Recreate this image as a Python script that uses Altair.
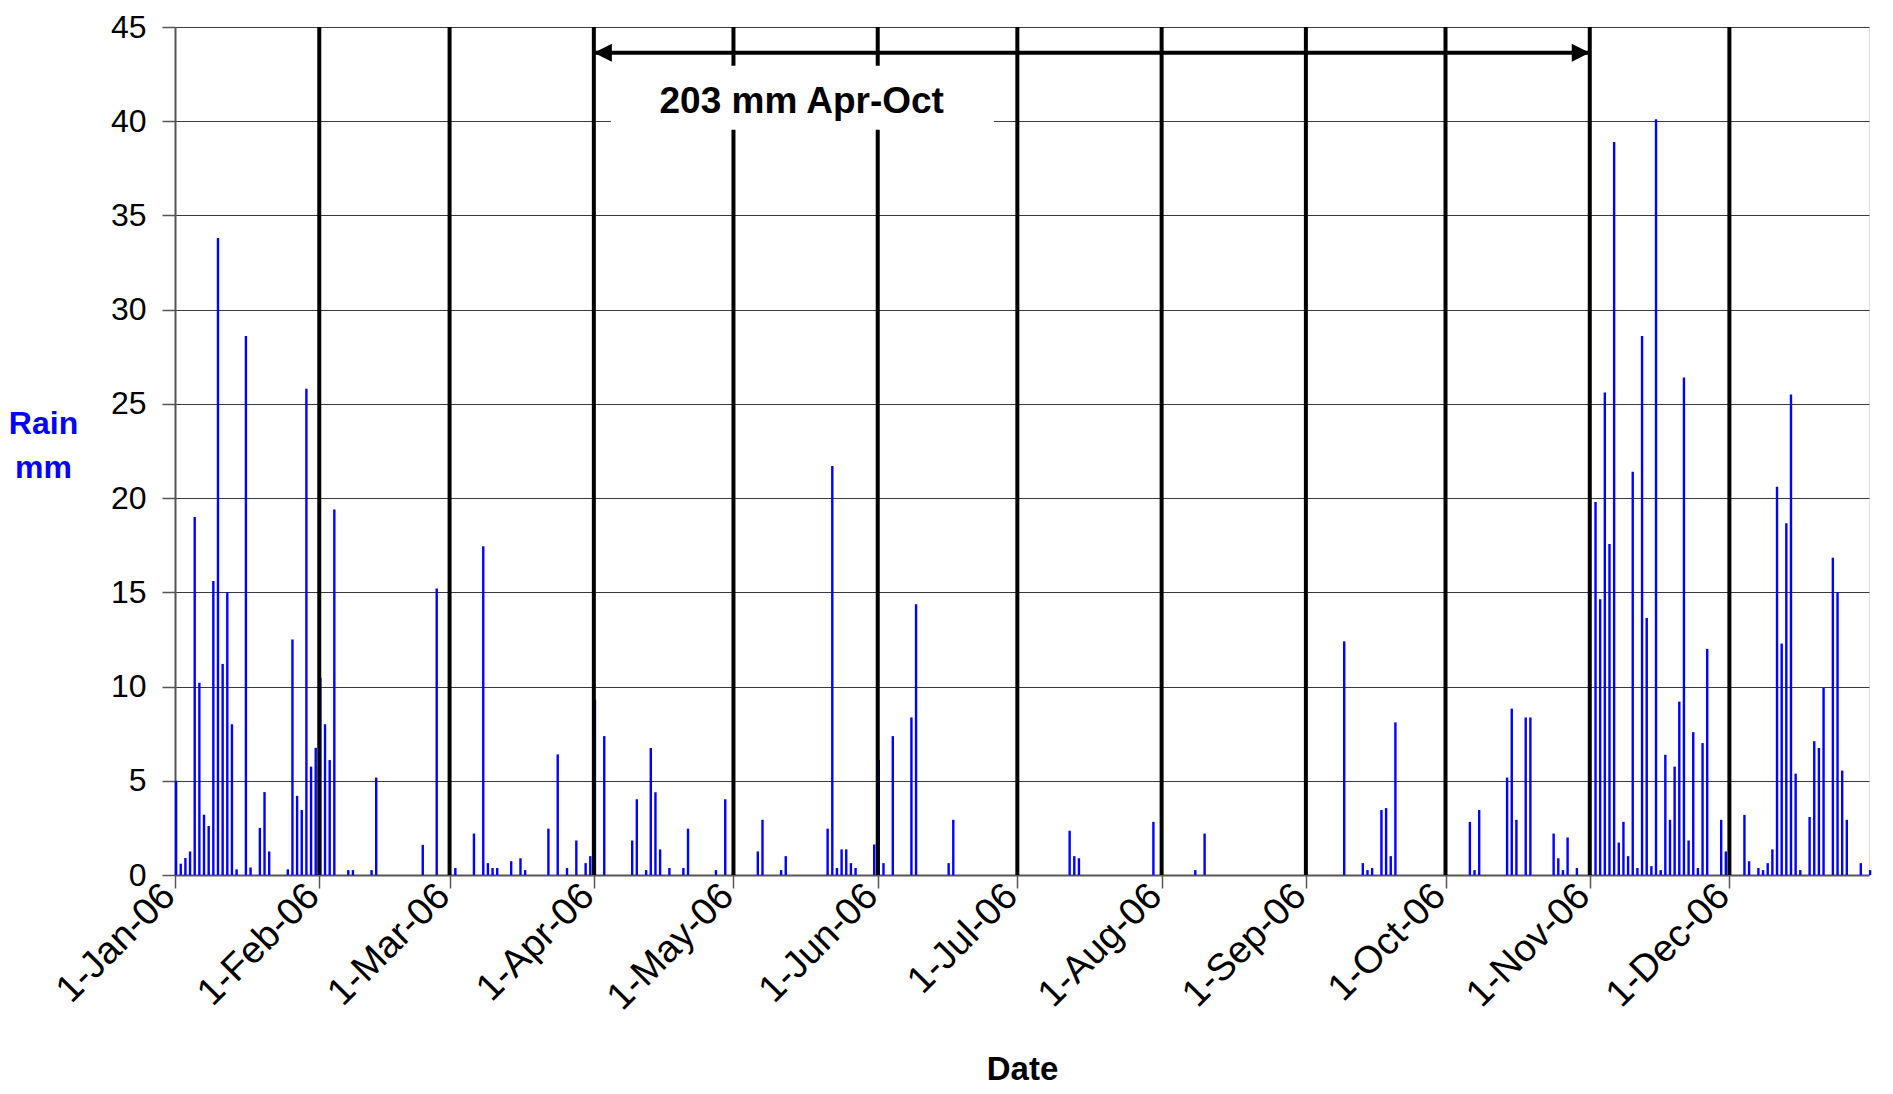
import altair as alt
import pandas as pd

# ---- data (daily rain, 2006) ----
days = [
    "01-01", "01-02", "01-03", "01-04", "01-05", "01-06", "01-07", "01-08", "01-09", "01-10",
    "01-11", "01-12", "01-13", "01-14", "01-16", "01-17", "01-19", "01-20", "01-21", "01-25",
    "01-26", "01-27", "01-28", "01-29", "01-30", "01-31",
    "02-01", "02-02", "02-03", "02-04", "02-07", "02-08", "02-12", "02-13", "02-23", "02-26",
    "03-02", "03-06", "03-08", "03-09", "03-10", "03-11", "03-14", "03-16", "03-17", "03-22",
    "03-24", "03-26", "03-28", "03-30", "03-31",
    "04-01", "04-03", "04-09", "04-10", "04-12", "04-13", "04-14", "04-15", "04-17", "04-20",
    "04-21", "04-27", "04-29",
    "05-06", "05-07", "05-11", "05-12", "05-21", "05-22", "05-23", "05-24", "05-25", "05-26",
    "05-27", "05-31",
    "06-01", "06-02", "06-04", "06-08", "06-09", "06-16", "06-17",
    "07-12", "07-13", "07-14", "07-30",
    "08-08", "08-10",
    "09-09", "09-13", "09-14", "09-15", "09-17", "09-18", "09-19", "09-20",
    "10-06", "10-07", "10-08", "10-14", "10-15", "10-16", "10-18", "10-19", "10-24", "10-25",
    "10-26", "10-27", "10-29",
    "11-02", "11-03", "11-04", "11-05", "11-06", "11-07", "11-08", "11-09", "11-10", "11-11",
    "11-12", "11-13", "11-14", "11-15", "11-16", "11-17", "11-18", "11-19", "11-20", "11-21",
    "11-22", "11-23", "11-24", "11-25", "11-26", "11-29", "11-30",
    "12-04", "12-05", "12-07", "12-08", "12-09", "12-10", "12-11", "12-12", "12-13", "12-14",
    "12-15", "12-16", "12-18", "12-19", "12-20", "12-21", "12-23", "12-24", "12-25", "12-26",
    "12-29", "12-31",
]
rain = [
    5.0, 0.6, 0.9, 1.25, 19.0, 10.2, 3.2, 2.6, 15.6, 33.8,
    11.2, 15.0, 8.0, 0.3, 28.6, 0.4, 2.5, 4.4, 1.25, 0.3,
    12.5, 4.2, 3.45, 25.8, 5.75, 6.75,
    10.45, 8.0, 6.1, 19.4, 0.26, 0.26, 0.26, 5.17, 1.6, 15.2,
    0.37, 2.2, 17.45, 0.63, 0.37, 0.37, 0.73, 0.89, 0.26, 2.46,
    6.4, 0.37, 1.83, 0.63, 1.0,
    9.3, 7.37, 1.83, 4.02, 0.26, 6.74, 4.39, 1.36, 0.37, 0.37,
    2.46, 0.26, 4.02,
    1.25, 2.93, 0.26, 1.0, 2.46, 21.7, 0.37, 1.36, 1.36, 0.63,
    0.37, 1.62,
    6.1, 0.63, 7.37, 8.36, 14.37, 0.63, 2.93,
    2.35, 1.0, 0.89, 2.82,
    0.26, 2.2,
    12.4, 0.63, 0.26, 0.37, 3.45, 3.55, 1.0, 8.1,
    2.82, 0.26, 3.45, 5.17, 8.83, 2.93, 8.36, 8.36, 2.2, 0.89,
    0.26, 1.99, 0.37,
    19.8, 14.63, 25.6, 17.56, 38.9, 1.72, 2.82, 1.0, 21.4, 0.37,
    28.6, 13.64, 0.47, 40.1, 0.26, 6.38, 2.93, 5.75, 9.2, 26.4,
    1.83, 7.58, 0.37, 7.0, 12.0, 2.93, 1.25,
    3.19, 0.73, 0.37, 0.26, 0.63, 1.36, 20.6, 12.28, 18.66, 25.5,
    5.38, 0.26, 3.08, 7.1, 6.74, 9.93, 16.83, 15.0, 5.54, 2.93,
    0.63, 0.26,
]
month_lines = ["02-01", "03-01", "04-01", "05-01", "06-01", "07-01",
               "08-01", "09-01", "10-01", "11-01", "12-01"]
y_ticks = [0, 5, 10, 15, 20, 25, 30, 35, 40, 45]

annotation_text = ["203 mm Apr-Oct"]
annotation_at = ["05-15T16:00:00"]
annotation_level = [40.45]
arrow_start = ["04-01"]
arrow_end = ["11-01"]
arrow_level = [43.64]
box_from = ["04-04T16:00:00"]
box_to = ["06-26T00:00:00"]
box_low = [39.55]
box_high = [42.95]


def ts(md):
    return f"2006-{md}" if "T" in md else f"2006-{md}T00:00:00"


df = pd.DataFrame({"date": [ts(d) for d in days], "rain": rain})
rules_df = pd.DataFrame({"date": [ts(m) for m in month_lines]})
box_df = pd.DataFrame({"date": [ts(d) for d in box_from], "date2": [ts(d) for d in box_to],
                       "rain": box_low, "rain2": box_high})
text_df = pd.DataFrame({"date": [ts(d) for d in annotation_at], "rain": annotation_level,
                        "label": annotation_text})
arrow_df = pd.DataFrame({"date": [ts(d) for d in arrow_start], "date2": [ts(d) for d in arrow_end],
                         "rain": arrow_level})
head_l_df = pd.DataFrame({"date": [ts(d) for d in arrow_start], "rain": arrow_level})
head_r_df = pd.DataFrame({"date": [ts(d) for d in arrow_end], "rain": arrow_level})

FONT = "Liberation Sans"

x_scale = alt.Scale(domain=[alt.DateTime(year=2006, month=1, date=1),
                            alt.DateTime(year=2006, month=12, date=31)],
                    nice=False, padding=0)
y_scale = alt.Scale(domain=[0, 45], nice=False, padding=0)

x_axis = alt.Axis(
    values=[alt.DateTime(year=2006, month=m, date=1) for m in range(1, 13)],
    format="%-d-%b-%y", labelAngle=-45, labelAlign="right", labelBaseline="middle",
    labelFontSize=38, labelFont=FONT, labelColor="black", labelPadding=2, labelOffset=-6,
    labelOverlap=False, labelFlush=False, labelBound=False,
    tickSize=13, tickColor="#555", tickWidth=1.5, domainColor="#555", domainWidth=2,
    grid=False, title="Date", titleFont=FONT, titleFontSize=33, titleFontWeight="bold",
    titleColor="black", titleY=204, titleBaseline="alphabetic",
)
y_axis = alt.Axis(
    values=y_ticks, labelFontSize=32, labelFont=FONT, labelColor="black", labelPadding=16,
    tickSize=13, tickColor="#555", tickWidth=1.5, domainColor="#555", domainWidth=2,
    grid=True, gridColor="#3a3a3a", gridWidth=1.2,
    title=["Rain", "mm"], titleFont=FONT, titleFontSize=32, titleFontWeight="bold",
    titleColor="#0000FF", titleAngle=0, titleX=-132, titleY=406, titleAlign="center",
    titleBaseline="alphabetic", titleLineHeight=44,
)

X = alt.X("date:T", scale=x_scale, axis=x_axis)
Y = alt.Y("rain:Q", scale=y_scale, axis=y_axis)

bars = alt.Chart(df).mark_bar(color="#0000FF", width=2.4, xOffset=1.1).encode(x=X, y=Y)

rules = alt.Chart(rules_df).mark_rule(color="black", strokeWidth=4).encode(x=X)

box = alt.Chart(box_df).mark_rect(color="white", opacity=1).encode(
    x=X, x2="date2:T", y=Y, y2="rain2:Q")

label = alt.Chart(text_df).mark_text(
    font=FONT, fontSize=37, fontWeight="bold", color="black",
    align="center", baseline="alphabetic").encode(x=X, y=Y, text="label:N")

arrow = alt.Chart(arrow_df).mark_rule(color="black", strokeWidth=4).encode(
    x=X, x2="date2:T", y=Y)

head_l = alt.Chart(head_l_df).mark_point(
    shape="M0,0 L1,-0.5 L1,0.5 Z", size=1296, filled=True, color="black", opacity=1
).encode(x=X, y=Y)
head_r = alt.Chart(head_r_df).mark_point(
    shape="M0,0 L-1,-0.5 L-1,0.5 Z", size=1296, filled=True, color="black", opacity=1
).encode(x=X, y=Y)

chart = alt.layer(bars, rules, box, label, arrow, head_l, head_r).properties(
    width=1694, height=848,
    padding={"left": 167, "top": 19, "right": 16, "bottom": 210},
    autosize=alt.AutoSizeParams(type="none"),
    background="white",
).configure_view(stroke="#999", strokeWidth=2).configure(font=FONT)

chart.save("out.html", embed_options={"renderer": "svg", "actions": False})
